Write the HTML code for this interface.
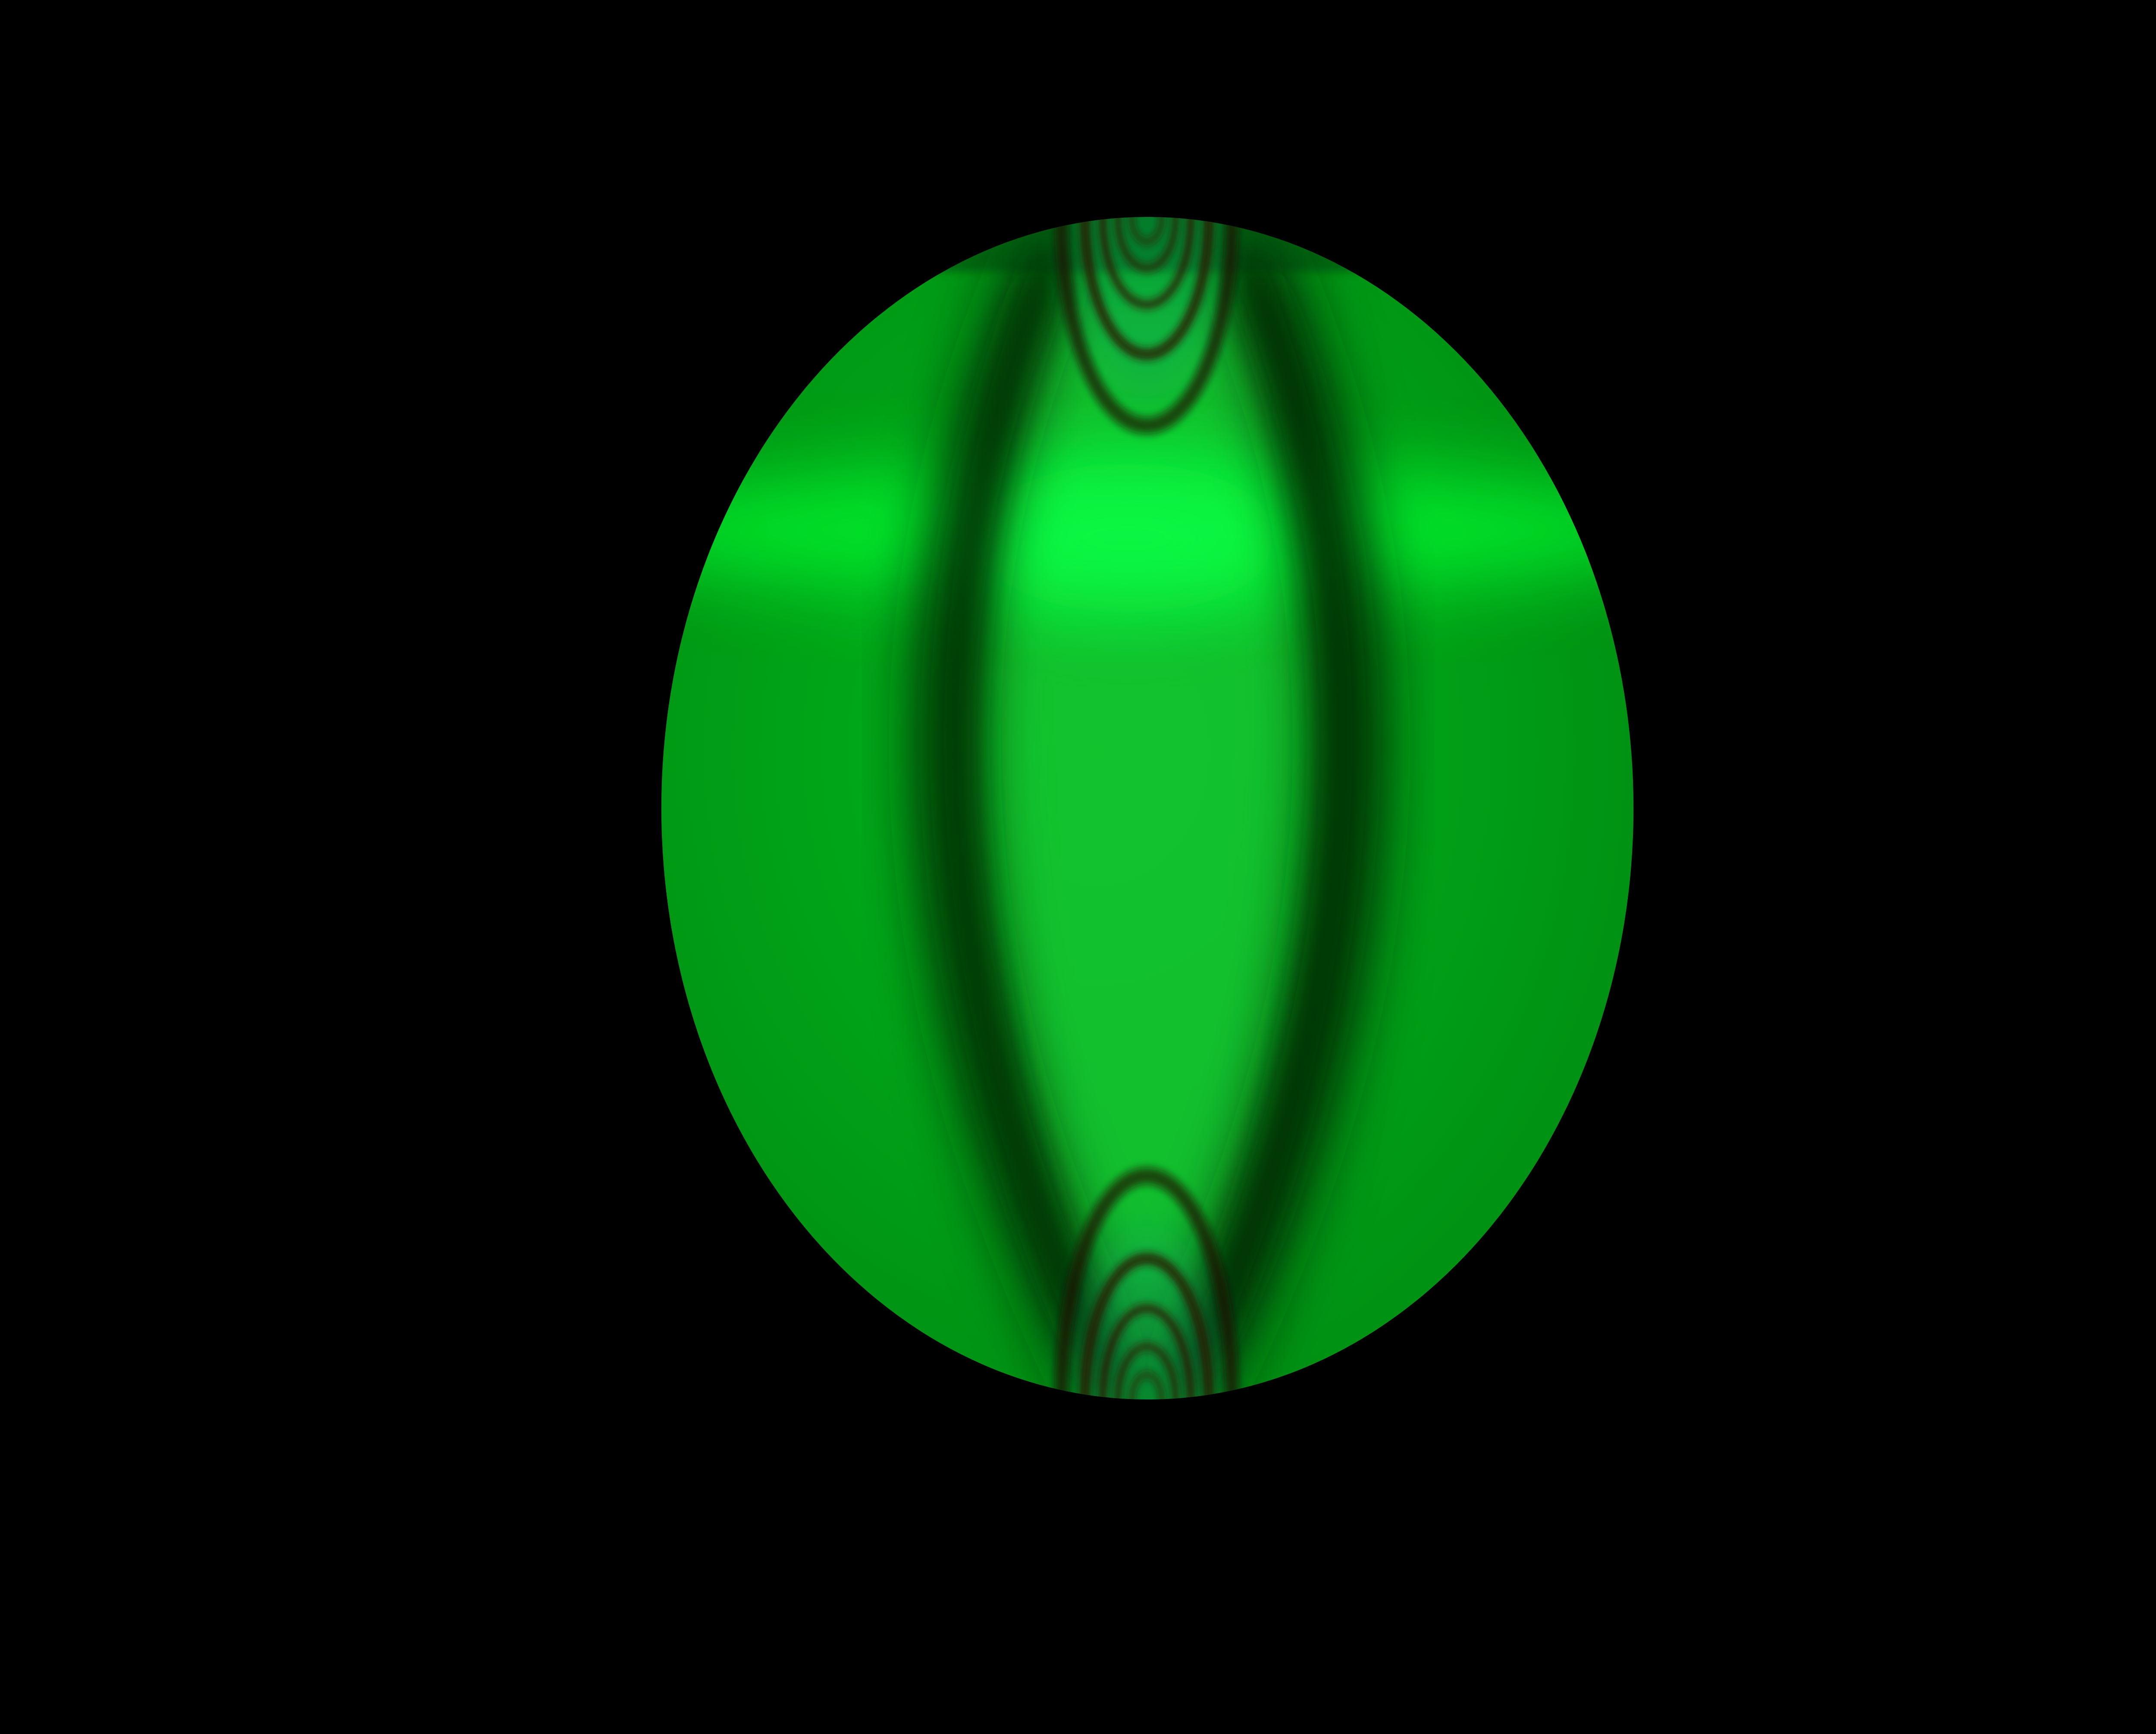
<!DOCTYPE html>
<html><head><meta charset="utf-8"><style>
html,body{margin:0;padding:0;background:#000;width:100%;height:100%;overflow:hidden}
svg{position:fixed;left:0;top:0;width:100vw;height:100vh;display:block}
</style></head><body>
<svg viewBox="0 0 1568 1047" preserveAspectRatio="none" xmlns="http://www.w3.org/2000/svg">
<defs>
<clipPath id="disk"><ellipse cx="834.5" cy="488" rx="353.5" ry="357"/></clipPath>
<filter id="b20" x="-50%" y="-50%" width="200%" height="200%"><feGaussianBlur stdDeviation="22"/></filter>
<filter id="b10" x="-50%" y="-50%" width="200%" height="200%"><feGaussianBlur stdDeviation="12"/></filter>
<filter id="b4" x="-50%" y="-50%" width="200%" height="200%"><feGaussianBlur stdDeviation="2.5"/></filter>
<radialGradient id="base" cx="0.45" cy="0.45" r="0.6">
<stop offset="0" stop-color="#00b81c"/><stop offset="1" stop-color="#008e12"/>
</radialGradient>
</defs>
<rect width="1568" height="1047" fill="#000"/>
<g clip-path="url(#disk)">
<rect x="470" y="120" width="730" height="740" fill="url(#base)"/>
<path d="M745 170 Q665 480 790 830 L880 830 Q1000 480 920 170 Z" fill="#16c532" filter="url(#b20)" opacity="0.85"/>
<ellipse cx="834" cy="320" rx="400" ry="40" fill="#00ff30" filter="url(#b20)" opacity="0.7"/>
<ellipse cx="820" cy="325" rx="110" ry="45" fill="#10ff50" filter="url(#b20)" opacity="0.6"/>
<path d="M765 150 Q590 480 808 840" stroke="#001a00" stroke-width="40" fill="none" filter="url(#b20)"/>
<path d="M905 150 Q1080 480 862 840" stroke="#001a00" stroke-width="44" fill="none" filter="url(#b20)"/>
<path d="M767 150 Q610 480 810 840" stroke="#002800" stroke-width="14" fill="none" filter="url(#b10)"/>
<path d="M903 150 Q1060 480 860 840" stroke="#002800" stroke-width="14" fill="none" filter="url(#b10)"/>
<rect x="470" y="120" width="730" height="44" fill="#003a08" opacity="0.5" filter="url(#b4)"/>
<ellipse cx="834" cy="150" rx="55" ry="90" fill="#10a060" opacity="0.35" filter="url(#b10)"/>
<ellipse cx="834" cy="830" rx="55" ry="90" fill="#10a060" opacity="0.35" filter="url(#b10)"/>
<g fill="none" filter="url(#b4)">
<ellipse cx="834" cy="132" rx="62" ry="125" stroke="#201400" stroke-width="10" opacity="0.7"/>
<ellipse cx="834" cy="132" rx="45" ry="82" stroke="#2a1400" stroke-width="7" opacity="0.85"/>
<ellipse cx="834" cy="132" rx="32" ry="52" stroke="#301800" stroke-width="5" opacity="0.85"/>
<ellipse cx="834" cy="132" rx="21" ry="30" stroke="#301800" stroke-width="4" opacity="0.85"/>
<ellipse cx="834" cy="132" rx="11" ry="14" stroke="#301800" stroke-width="3" opacity="0.85"/>
</g>
<g fill="none" filter="url(#b4)">
<ellipse cx="834" cy="845" rx="62" ry="135" stroke="#201400" stroke-width="10" opacity="0.7"/>
<ellipse cx="834" cy="845" rx="45" ry="85" stroke="#2a1400" stroke-width="7" opacity="0.85"/>
<ellipse cx="834" cy="845" rx="32" ry="55" stroke="#301800" stroke-width="5" opacity="0.85"/>
<ellipse cx="834" cy="845" rx="21" ry="32" stroke="#301800" stroke-width="4" opacity="0.85"/>
<ellipse cx="834" cy="845" rx="11" ry="15" stroke="#301800" stroke-width="3" opacity="0.85"/>
</g>
</g>
</svg>
</body></html>
